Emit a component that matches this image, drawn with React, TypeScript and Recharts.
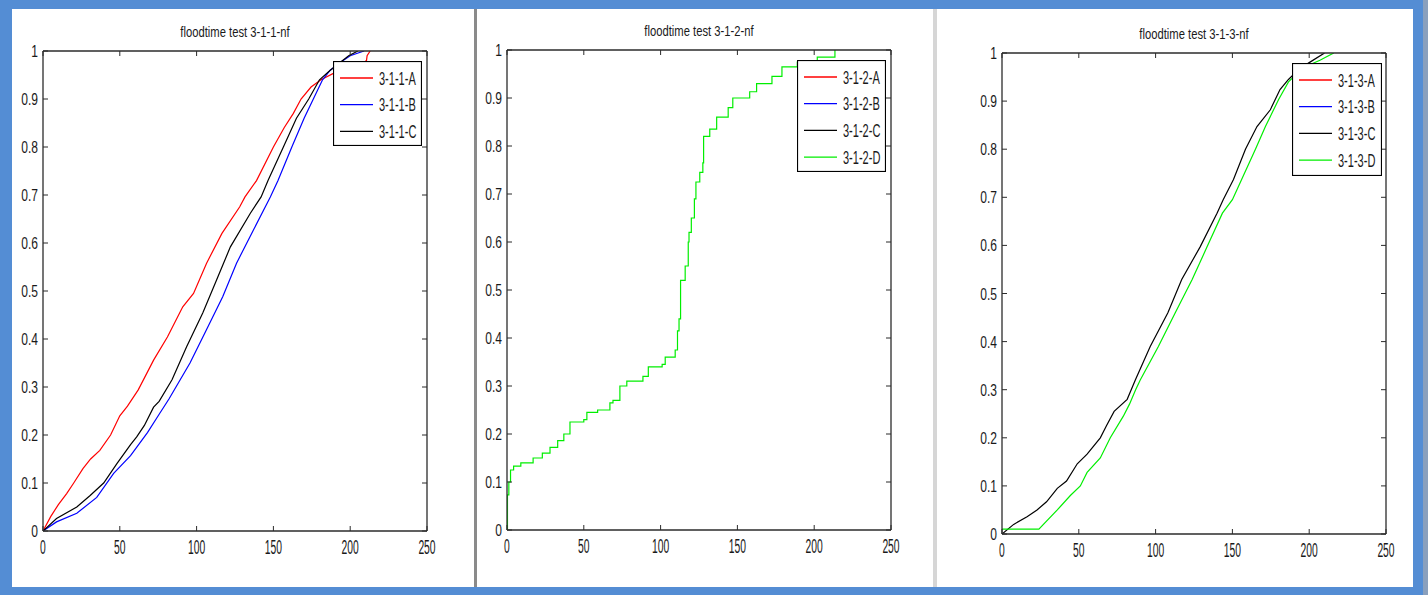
import { LineChart, Line, XAxis, YAxis, Legend } from 'recharts'

const X_TICKS = [0, 50, 100, 150, 200, 250]
const Y_TICKS = [0, 0.1, 0.2, 0.3, 0.4, 0.5, 0.6, 0.7, 0.8, 0.9, 1]

const RED = '#ff0000'
const BLUE = '#0000ff'
const BLACK = '#000000'
const GREEN = '#00ee00'
const AXIS = '#2b2b2b'
const INK = '#1a1a1a'
const FONT = '"Liberation Sans", Arial, sans-serif'

// floodtime test 3-1-1-nf  [time, fraction]
const T311_A: [number, number][] = [
  [0, 0], [5, 0.03], [10, 0.055], [15.4, 0.078], [20, 0.1], [26, 0.13], [31, 0.15], [37, 0.168],
  [44, 0.2], [50, 0.24], [55, 0.26], [62, 0.294], [72, 0.356], [81, 0.404], [91, 0.467], [98, 0.495],
  [106.5, 0.558], [116.5, 0.62], [128, 0.675], [131.5, 0.696], [139, 0.73], [150, 0.8], [157, 0.84],
  [163, 0.87], [168, 0.9], [174.5, 0.925], [181, 0.94], [190, 0.955], [200, 0.965], [206, 0.97],
  [210.6, 0.98], [211, 0.99], [213, 1],
]
const T311_B: [number, number][] = [
  [0, 0], [8.8, 0.019], [22, 0.037], [35, 0.07], [46, 0.12], [57, 0.157], [68, 0.205], [75, 0.24],
  [82, 0.275], [95.7, 0.35], [106.5, 0.42], [117, 0.488], [126, 0.558], [137, 0.627], [148, 0.696],
  [153, 0.73], [162, 0.8], [170, 0.86], [176, 0.9], [182, 0.94], [187, 0.96], [193, 0.975],
  [200, 0.99], [209, 1],
]
const T311_C: [number, number][] = [
  [0, 0], [8.8, 0.026], [22, 0.05], [30.7, 0.074], [39.5, 0.1], [48, 0.14], [57, 0.18], [61, 0.196],
  [66, 0.22], [72, 0.258], [75.6, 0.27], [84, 0.315], [93.5, 0.384], [104, 0.454], [113, 0.523],
  [122, 0.592], [135, 0.662], [142, 0.696], [146.5, 0.73], [156.5, 0.8], [165, 0.86], [173, 0.9],
  [180, 0.94], [187, 0.96], [193, 0.975], [199, 0.99], [205, 1],
]

// floodtime test 3-1-2-nf (only D is visible)
const T312_D: [number, number][] = [
  [0, 0], [0.3, 0.073], [1.2, 0.1], [2.3, 0.125], [4.3, 0.133], [9, 0.14], [17, 0.15], [23, 0.16],
  [28, 0.172], [33, 0.186], [37, 0.2], [41, 0.225], [50, 0.23], [52, 0.245], [59, 0.25], [67, 0.265],
  [69, 0.27], [73.5, 0.3], [78, 0.31], [88.5, 0.32], [92, 0.34], [101, 0.345], [103, 0.36],
  [109.5, 0.375], [111, 0.415], [112, 0.44], [113, 0.52], [116, 0.55], [118, 0.6], [118.5, 0.62],
  [120, 0.65], [122, 0.69], [123, 0.725], [125.5, 0.745], [127.5, 0.765], [128, 0.82], [132, 0.835],
  [136.5, 0.86], [144, 0.88], [147, 0.9], [158, 0.913], [162.5, 0.93], [172.5, 0.945], [179, 0.965],
  [189, 0.975], [202, 0.985], [213.5, 1],
]

// floodtime test 3-1-3-nf (C and D visible)
const T313_C: [number, number][] = [
  [0, 0], [7.6, 0.02], [16.3, 0.036], [22.8, 0.05], [29, 0.067], [36, 0.095], [42, 0.11], [49, 0.146],
  [55.4, 0.166], [64, 0.2], [68, 0.225], [73, 0.255], [81.5, 0.28], [86.8, 0.32], [96.5, 0.39],
  [108, 0.46], [117, 0.529], [129, 0.597], [140, 0.667], [144, 0.695], [150.7, 0.737], [158.5, 0.8],
  [166, 0.847], [174.7, 0.882], [181, 0.924], [186.5, 0.945], [193, 0.965], [200, 0.98], [210, 1],
]
const T313_D: [number, number][] = [
  [0, 0.01], [24, 0.01], [36, 0.05], [44.5, 0.08], [51, 0.1], [55.4, 0.128], [64, 0.158], [70.5, 0.2],
  [79, 0.245], [83, 0.27], [87, 0.3], [90, 0.32], [101.8, 0.39], [112.8, 0.46], [123.8, 0.529],
  [133.5, 0.597], [143.5, 0.667], [150, 0.695], [156, 0.737], [165, 0.8], [171.5, 0.847], [180, 0.903],
  [186.5, 0.94], [193, 0.96], [200, 0.975], [207, 0.985], [216, 1],
]

const NONE: [number, number][] = []

const pts = (a: [number, number][]) => a.map(([x, y]) => ({ x, y }))
const fmt = (v: number) => String(Math.round(v * 10) / 10)

const PANELS = [
  {
    title: 'floodtime test 3-1-1-nf',
    left: 12, right: 474,
    plot: { l: 43, t: 51, r: 427, b: 531 },
    legend: { x: 333, y: 61, w: 89, h: 85 },
    step: false,
    series: [
      { name: '3-1-1-A', color: RED, data: T311_A },
      { name: '3-1-1-B', color: BLUE, data: T311_B },
      { name: '3-1-1-C', color: BLACK, data: T311_C },
    ],
  },
  {
    title: 'floodtime test 3-1-2-nf',
    left: 477, right: 933,
    plot: { l: 507, t: 50, r: 891, b: 530 },
    legend: { x: 797, y: 60, w: 89, h: 112 },
    step: true,
    series: [
      { name: '3-1-2-A', color: RED, data: NONE },
      { name: '3-1-2-B', color: BLUE, data: NONE },
      { name: '3-1-2-C', color: BLACK, data: NONE },
      { name: '3-1-2-D', color: GREEN, data: T312_D },
    ],
  },
  {
    title: 'floodtime test 3-1-3-nf',
    left: 937, right: 1413,
    plot: { l: 1002, t: 53, r: 1386, b: 534 },
    legend: { x: 1292, y: 63, w: 90, h: 113 },
    step: false,
    series: [
      { name: '3-1-3-A', color: RED, data: NONE },
      { name: '3-1-3-B', color: BLUE, data: NONE },
      { name: '3-1-3-C', color: BLACK, data: T313_C },
      { name: '3-1-3-D', color: GREEN, data: T313_D },
    ],
  },
]

const TOP = 9
const BOTTOM = 587

function BottomTick({ x, y, payload }: any) {
  return (
    <g>
      <line x1={x} y1={y} x2={x} y2={y - 5} stroke={AXIS} />
      <text transform={`translate(${x},${y + 23}) scale(0.53,1)`} textAnchor="middle" fontSize={19.5} fill={INK} fontFamily={FONT}>
        {payload.value}
      </text>
    </g>
  )
}
function TopTick({ x, y }: any) {
  return <line x1={x} y1={y} x2={x} y2={y + 5} stroke={AXIS} />
}
function LeftTick({ x, y, payload }: any) {
  return (
    <g>
      <line x1={x} y1={y} x2={x + 5} y2={y} stroke={AXIS} />
      <text transform={`translate(${x - 5},${y + 6}) scale(0.71,1)`} textAnchor="end" fontSize={17} fill={INK} fontFamily={FONT}>
        {fmt(payload.value)}
      </text>
    </g>
  )
}
function RightTick({ x, y }: any) {
  return <line x1={x} y1={y} x2={x - 5} y2={y} stroke={AXIS} />
}

function LegendBox({ items, w, h }: any) {
  return (
    <svg width={w} height={h} style={{ display: 'block' }}>
      <rect x={0.5} y={0.5} width={w - 1} height={h - 1} fill="#fff" stroke="#000" strokeWidth={1.2} />
      {items.map((s: any, i: number) => {
        const cy = 17 + i * 26.7
        return (
          <g key={s.name}>
            <line x1={7} y1={cy} x2={40} y2={cy} stroke={s.color} strokeWidth={1.3} />
            <text transform={`translate(46,${cy + 6.5}) scale(0.63,1)`} fontSize={17.5} fill={INK} fontFamily={FONT}>
              {s.name}
            </text>
          </g>
        )
      })}
    </svg>
  )
}

const AX = 1 // axis band size (Recharts skips axes of zero size)

function Panel({ p }: any) {
  const w = p.right - p.left
  const h = BOTTOM - TOP
  const cx = (p.plot.l + p.plot.r) / 2 - p.left
  const axisLine = { stroke: AXIS, strokeWidth: 1.3 }
  return (
    <div style={{ position: 'absolute', left: p.left, top: TOP, width: w, height: h, background: '#fff' }}>
      <div style={{ position: 'absolute', left: 0, top: 0 }}>
        <LineChart
          width={w}
          height={h}
          margin={{
            top: p.plot.t - TOP - AX,
            left: p.plot.l - p.left - AX,
            right: p.right - p.plot.r - AX,
            bottom: BOTTOM - p.plot.b - AX,
          }}
        >
          <XAxis xAxisId="b" type="number" dataKey="x" domain={[0, 250]} ticks={X_TICKS} allowDataOverflow
            height={AX} tickSize={0} tickMargin={0} tickLine={false} axisLine={axisLine} tick={BottomTick} />
          <XAxis xAxisId="t" orientation="top" type="number" dataKey="x" domain={[0, 250]} ticks={X_TICKS} allowDataOverflow
            height={AX} tickSize={0} tickMargin={0} tickLine={false} axisLine={axisLine} tick={TopTick} />
          <YAxis yAxisId="l" type="number" domain={[0, 1]} ticks={Y_TICKS} allowDataOverflow
            width={AX} tickSize={0} tickMargin={0} tickLine={false} axisLine={axisLine} tick={LeftTick} />
          <YAxis yAxisId="r" orientation="right" type="number" domain={[0, 1]} ticks={Y_TICKS} allowDataOverflow
            width={AX} tickSize={0} tickMargin={0} tickLine={false} axisLine={axisLine} tick={RightTick} />
          {p.series.map((s: any) => (
            <Line
              key={s.name}
              xAxisId="b"
              yAxisId="l"
              data={pts(s.data)}
              dataKey="y"
              name={s.name}
              type={p.step ? 'stepAfter' : 'linear'}
              stroke={s.color}
              strokeWidth={1.2}
              dot={false}
              activeDot={false}
              isAnimationActive={false}
            />
          ))}
          <Legend
            layout="vertical"
            align="center"
            verticalAlign="middle"
            wrapperStyle={{ left: p.legend.x - p.left, top: p.legend.y - TOP, width: p.legend.w, height: p.legend.h }}
            content={() => <LegendBox items={p.series} w={p.legend.w} h={p.legend.h} />}
          />
        </LineChart>
      </div>
      <svg width={w} height={40} style={{ position: 'absolute', left: 0, top: 0 }}>
        <text transform={`translate(${cx},${p.plot.t - TOP - 14}) scale(0.75,1)`} textAnchor="middle" fontSize={15} fill={INK} fontFamily={FONT}>
          {p.title}
        </text>
      </svg>
    </div>
  )
}

export default function App() {
  return (
    <div style={{ position: 'absolute', left: 0, top: 0, width: 1428, height: 595, background: '#548dd4', overflow: 'hidden' }}>
      <div style={{ position: 'absolute', left: 1423, top: 0, width: 5, height: 595, background: '#8aa0bd' }} />
      {PANELS.map((p) => (
        <Panel key={p.title} p={p} />
      ))}
      <div style={{ position: 'absolute', left: 474, top: TOP, width: 3, height: BOTTOM - TOP, background: '#8a8a8a' }} />
      <div style={{ position: 'absolute', left: 933, top: TOP, width: 4, height: BOTTOM - TOP, background: '#d6d6d6' }} />
    </div>
  )
}
